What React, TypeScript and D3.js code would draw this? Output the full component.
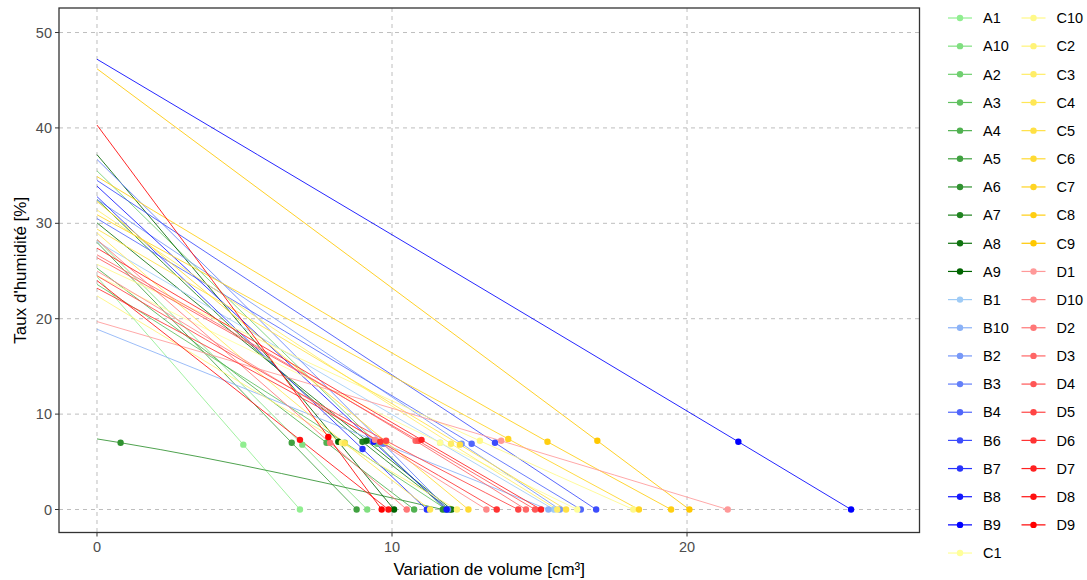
import React from "react";
import * as d3 from "d3";

// Sample identifiers, in legend order
const seriesNames = [
  "A1", "A10", "A2", "A3", "A4", "A5", "A6", "A7", "A8", "A9",
  "B1", "B10", "B2", "B3", "B4", "B6", "B7", "B8", "B9",
  "C1", "C10", "C2", "C3", "C4", "C5", "C6", "C7", "C8", "C9",
  "D1", "D10", "D2", "D3", "D4", "D5", "D6", "D7", "D8", "D9",
];

// Moisture at zero volume change [%]
const startMoisture = [
  24.4, 28.3, 35.5, 23.6, 25.3, 28.0, 7.4, 32.5, 30.05, 37.2,
  28.1, 18.9, 32.5, 36.7, 30.5, 34.5, 32.8, 33.9, 47.2,
  24.5, 25.7, 22.4, 31.4, 29.0, 29.4, 32.3, 30.9, 34.9, 46.2,
  19.7, 25.0, 28.3, 26.7, 26.4, 24.5, 23.2, 27.4, 24.0, 40.3,
];

// Intermediate measurement: volume change [cm³] and moisture [%]
const midVolume = [
  4.96, 6.96, 9.5, 8.4, 7.78, 6.6, 0.8, 9.0, 9.14, 8.18,
  11.63, 9.6, 12.36, 9.7, 12.7, 13.49, 9.0, 9.37, 21.74,
  11.63, 12.98, 8.3, 12.0, 8.4, 12.3, 9.8, 13.94, 15.27, 16.96,
  13.7, 9.42, 7.9, 10.8, 10.9, 9.8, 9.6, 11.0, 6.88, 7.84,
];
const midMoisture = [
  6.8, 6.8, 6.9, 7.0, 7.0, 7.0, 7.0, 7.1, 7.2, 7.1,
  7.0, 7.0, 6.9, 6.9, 6.9, 7.0, 6.35, 7.1, 7.1,
  7.0, 7.2, 7.0, 6.9, 6.95, 6.8, 7.1, 7.4, 7.1, 7.2,
  7.2, 7.3, 7.0, 7.2, 7.2, 7.2, 7.1, 7.3, 7.3, 7.6,
];

// Final measurement: volume change [cm³] at dry state
const endVolume = [
  6.88, 9.16, 11.8, 11.85, 10.75, 8.8, 11.72, 11.95, 12.02, 10.07,
  15.49, 15.3, 15.69, 11.9, 16.4, 16.92, 11.18, 11.85, 25.56,
  16.28, 18.18, 12.2, 15.6, 11.29, 15.9, 12.59, 18.37, 19.46, 20.08,
  21.38, 13.2, 10.5, 14.54, 14.85, 14.28, 13.55, 15.05, 9.88, 9.65,
];
const endMoisture = seriesNames.map(() => 0);

const xTicks = [0, 10, 20];
const yTicks = [0, 10, 20, 30, 40, 50];

const palettes: Record<string, [string, string]> = {
  A: ["#90EE90", "#006400"],
  B: ["#9FCBF6", "#0000FF"],
  C: ["#FFFF99", "#FFC800"],
  D: ["#FF9999", "#FF0000"],
};

function buildColors(names: string[]): string[] {
  return names.map((name) => {
    const group = name[0];
    const members = names.filter((n) => n[0] === group);
    const idx = members.indexOf(name);
    const t = members.length > 1 ? idx / (members.length - 1) : 0;
    const [lo, hi] = palettes[group];
    return d3.interpolateRgb(lo, hi)(t);
  });
}

const W = 1087;
const H = 580;
const panel = { left: 59, right: 919.5, top: 8, bottom: 532.5 };
const FONT = "'Liberation Sans', Arial, sans-serif";

export default function App() {
  const colors = buildColors(seriesNames);
  const x = d3.scaleLinear().domain([-1.288, 27.88]).range([panel.left, panel.right]);
  const y = d3.scaleLinear().domain([-2.41, 52.57]).range([panel.bottom, panel.top]);

  const series = seriesNames.map((name, i) => ({
    name,
    color: colors[i],
    pts: [
      [0, startMoisture[i]],
      [midVolume[i], midMoisture[i]],
      [endVolume[i], endMoisture[i]],
    ] as [number, number][],
  }));

  const line = d3
    .line<[number, number]>()
    .x((d) => x(d[0]))
    .y((d) => y(d[1]))
    .curve(d3.curveMonotoneX);

  const rowsPerCol = 20;
  const legendTop = 18;
  const rowH = 28.16;

  return (
    <svg
      width={W}
      height={H}
      style={{ position: "absolute", left: 0, top: 0, background: "#fff" }}
      fontFamily={FONT}
    >
      <rect x={0} y={0} width={W} height={H} fill="#fff" />
      {/* grid */}
      {xTicks.map((t) => (
        <line key={"gx" + t} x1={x(t)} x2={x(t)} y1={panel.top} y2={panel.bottom}
          stroke="#BEBEBE" strokeDasharray="4,4" strokeWidth={1} />
      ))}
      {yTicks.map((t) => (
        <line key={"gy" + t} x1={panel.left} x2={panel.right} y1={y(t)} y2={y(t)}
          stroke="#BEBEBE" strokeDasharray="4,4" strokeWidth={1} />
      ))}
      {/* lines */}
      <g clipPath="url(#clip)">
        {series.map((s) => (
          <path key={"l" + s.name} d={line(s.pts) || ""} fill="none" stroke={s.color}
            strokeWidth={1} strokeOpacity={0.85} />
        ))}
      </g>
      {/* points */}
      {series.map((s) => (
        <g key={"p" + s.name}>
          {s.pts.slice(1).map((p, j) => (
            <circle key={j} cx={x(p[0])} cy={y(p[1])} r={3.2} fill={s.color} />
          ))}
        </g>
      ))}
      <defs>
        <clipPath id="clip">
          <rect x={panel.left} y={panel.top} width={panel.right - panel.left} height={panel.bottom - panel.top} />
        </clipPath>
      </defs>
      {/* panel border */}
      <rect x={panel.left} y={panel.top} width={panel.right - panel.left} height={panel.bottom - panel.top}
        fill="none" stroke="#333333" strokeWidth={1.3} />
      {/* axes ticks */}
      {yTicks.map((t) => (
        <g key={"ty" + t}>
          <line x1={panel.left - 4} x2={panel.left} y1={y(t)} y2={y(t)} stroke="#333333" strokeWidth={1} />
          <text x={panel.left - 7} y={y(t)} dy="0.35em" textAnchor="end" fontSize={14.5} fill="#4D4D4D">{t}</text>
        </g>
      ))}
      {xTicks.map((t) => (
        <g key={"tx" + t}>
          <line x1={x(t)} x2={x(t)} y1={panel.bottom} y2={panel.bottom + 4} stroke="#333333" strokeWidth={1} />
          <text x={x(t)} y={panel.bottom + 19} textAnchor="middle" fontSize={14.5} fill="#4D4D4D">{t}</text>
        </g>
      ))}
      {/* axis titles */}
      <text x={(panel.left + panel.right) / 2} y={575} textAnchor="middle" fontSize={17} fill="#000">
        Variation de volume [cm³]
      </text>
      <text transform={`translate(26,${(panel.top + panel.bottom) / 2}) rotate(-90)`} textAnchor="middle"
        fontSize={17} fill="#000">
        Taux d'humidité [%]
      </text>
      {/* legend */}
      {series.map((s, i) => {
        const col = Math.floor(i / rowsPerCol);
        const row = i % rowsPerCol;
        const kx = 948 + col * 73.5;
        const ky = legendTop + row * rowH;
        return (
          <g key={"lg" + s.name}>
            <line x1={kx} x2={kx + 24} y1={ky} y2={ky} stroke={s.color} strokeWidth={1.2} />
            <circle cx={kx + 12} cy={ky} r={3.2} fill={s.color} />
            <text x={kx + 35} y={ky} dy="0.36em" fontSize={14.5} fill="#000">{s.name}</text>
          </g>
        );
      })}
    </svg>
  );
}
